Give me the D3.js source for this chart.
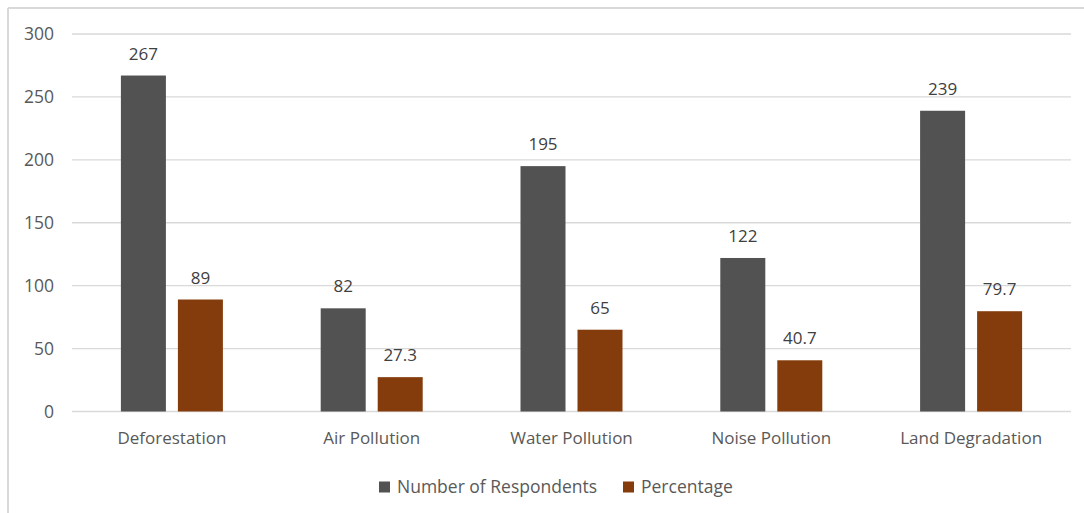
<!DOCTYPE html>
<html>
<head>
<meta charset="utf-8">
<script src="https://cdn.jsdelivr.net/npm/d3@7"></script>
<style>
  html, body { margin: 0; padding: 0; background: #fff; }
  svg { display: block; }
  svg text { font-family: "Open Sans", "Noto Sans", sans-serif; }
</style>
</head>
<body>
<div id="chart"></div>
<script>
// datos de la figura
const categories = ['Deforestation', 'Air Pollution', 'Water Pollution', 'Noise Pollution', 'Land Degradation'];
const respondents = [267, 82, 195, 122, 239];
const percentage = [89, 27.3, 65, 40.7, 79.7];
const seriesNames = ['Number of Respondents', 'Percentage'];
const yTicks = [0, 50, 100, 150, 200, 250, 300];

const colors = ['#525252', '#843c0c'];

const W = 1084, H = 513;
const plot = { left: 72, right: 1071, top: 34, bottom: 411.5 };

const svg = d3.select('#chart').append('svg')
    .attr('width', W)
    .attr('height', H);

// borde del área del gráfico (solo se ven arriba e izquierda)
svg.append('line').attr('x1', 8).attr('x2', W).attr('y1', 8).attr('y2', 8)
    .attr('stroke', '#d9d9d9').attr('stroke-width', 2);
svg.append('line').attr('x1', 8).attr('x2', 8).attr('y1', 8).attr('y2', H)
    .attr('stroke', '#d9d9d9').attr('stroke-width', 2);

const x = d3.scaleBand()
    .domain(categories)
    .range([plot.left, plot.right]);

const y = d3.scaleLinear()
    .domain([0, 300])
    .range([plot.bottom, plot.top]);

const barW = 45, innerGap = 12;

// líneas de cuadrícula
svg.append('g')
    .selectAll('line')
    .data(yTicks)
    .enter()
    .append('line')
    .attr('x1', plot.left)
    .attr('x2', plot.right)
    .attr('y1', d => y(d))
    .attr('y2', d => y(d))
    .attr('stroke', '#d9d9d9')
    .attr('stroke-width', 1.3);

// eje Y
const yAxis = svg.append('g')
    .attr('transform', `translate(${plot.left - 18},0)`)
    .call(d3.axisLeft(y).tickValues(yTicks).tickSize(0).tickPadding(0));
yAxis.attr('font-family', null).attr('font-size', null);
yAxis.select('.domain').remove();
yAxis.selectAll('text')
    .attr('fill', '#595959')
    .style('font-size', '17.5px');

// eje X
const xAxis = svg.append('g')
    .attr('transform', `translate(0,${plot.bottom})`)
    .call(d3.axisBottom(x).tickSize(0).tickPadding(20));
xAxis.attr('font-family', null).attr('font-size', null);
xAxis.select('.domain').remove();
xAxis.selectAll('text')
    .attr('fill', '#595959')
    .style('font-size', '17px');

const series = [respondents, percentage];
series.forEach((vals, si) => {
    const offset = si === 0 ? -(barW + innerGap / 2) : innerGap / 2;
    const g = svg.append('g');
    g.selectAll('rect')
        .data(vals)
        .enter()
        .append('rect')
        .attr('x', (d, i) => x(categories[i]) + x.bandwidth() / 2 + offset)
        .attr('y', d => y(d))
        .attr('width', barW)
        .attr('height', d => y(0) - y(d))
        .attr('fill', colors[si]);
    g.selectAll('text')
        .data(vals)
        .enter()
        .append('text')
        .attr('x', (d, i) => x(categories[i]) + x.bandwidth() / 2 + offset + barW / 2)
        .attr('y', d => y(d) - 16)
        .attr('text-anchor', 'middle')
        .attr('fill', '#404040')
        .style('font-size', '17px')
        .text(d => d);
});

// leyenda
const legend = svg.append('g').attr('transform', 'translate(379,487)');
const legendX = [0, 244];
seriesNames.forEach((name, i) => {
    const item = legend.append('g').attr('transform', `translate(${legendX[i]},0)`);
    item.append('rect')
        .attr('x', 0).attr('y', -5.5)
        .attr('width', 11).attr('height', 11)
        .attr('fill', colors[i]);
    item.append('text')
        .attr('x', 18).attr('y', 0)
        .attr('dy', '0.35em')
        .attr('fill', '#595959')
        .style('font-size', '17.5px')
        .text(name);
});
</script>
</body>
</html>
